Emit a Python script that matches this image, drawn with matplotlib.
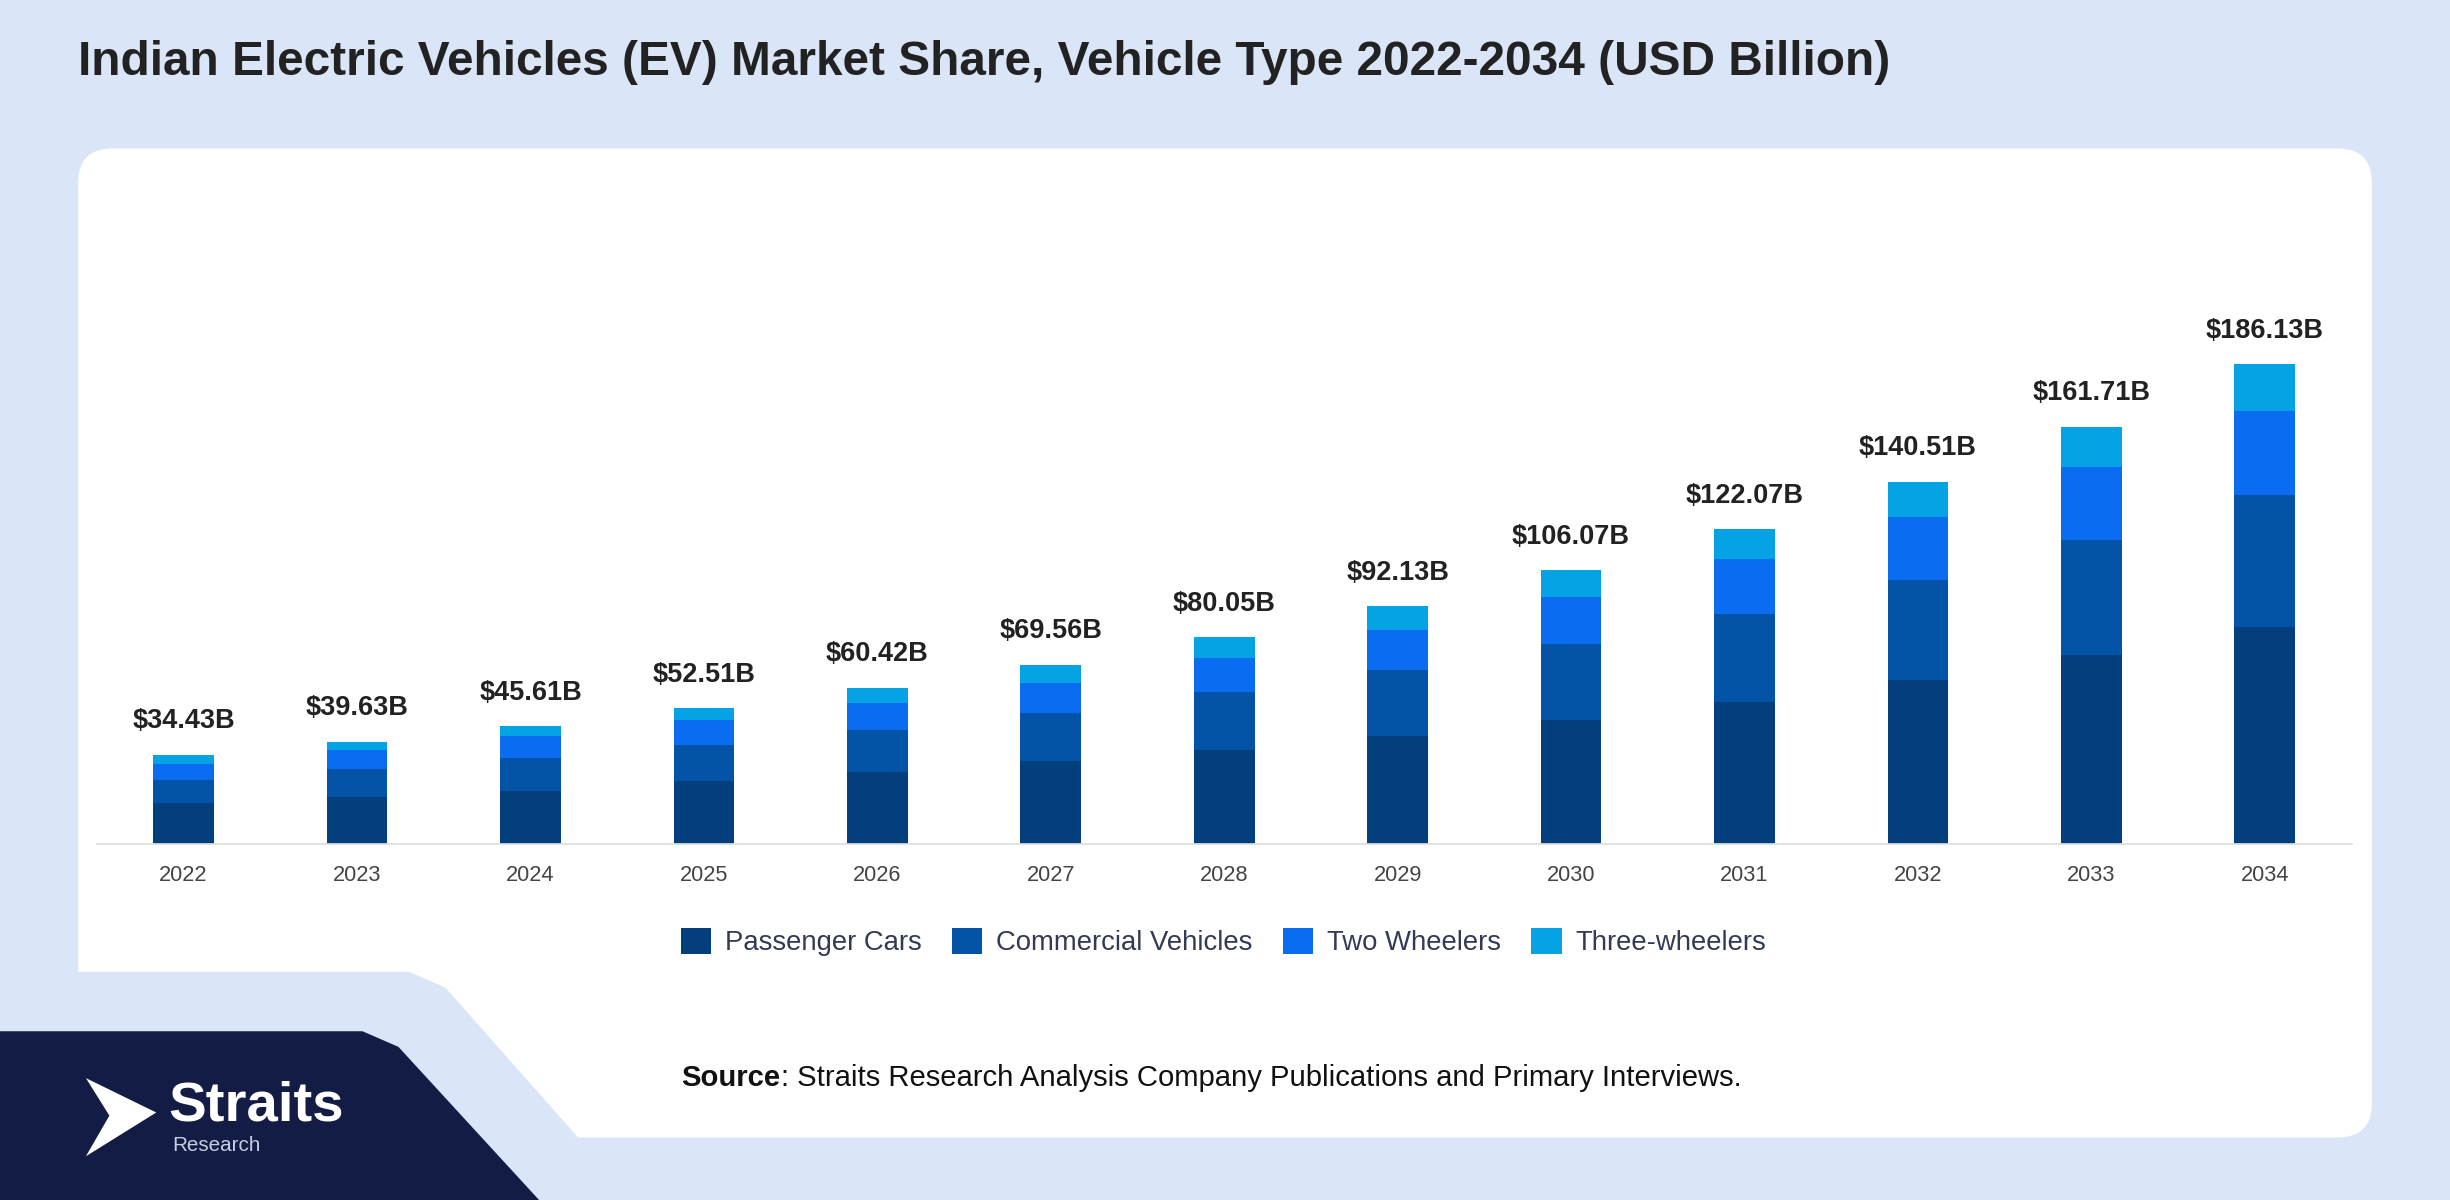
import matplotlib.pyplot as plt
import numpy as np
from matplotlib.patches import FancyBboxPatch, Polygon, Patch

plt.rcParams["font.family"] = ["Liberation Sans", "DejaVu Sans"]

years = ["2022", "2023", "2024", "2025", "2026", "2027", "2028",
         "2029", "2030", "2031", "2032", "2033", "2034"]
totals = [34.43, 39.63, 45.61, 52.51, 60.42, 69.56, 80.05,
          92.13, 106.07, 122.07, 140.51, 161.71, 186.13]
passenger = [15.8, 18.2, 20.6, 24.3, 27.9, 32.1, 36.4, 41.8, 47.9, 55.2, 63.7, 73.4, 84.3]
commercial = [9.1, 10.9, 12.7, 13.9, 16.4, 18.8, 22.4, 25.5, 29.7, 34.0, 38.8, 44.3, 50.9]
two_wheelers = [6.1, 7.3, 8.5, 9.7, 10.3, 11.5, 13.3, 15.8, 18.2, 21.2, 24.3, 28.5, 32.7]
three_wheelers = [t - p - c - w for t, p, c, w in zip(totals, passenger, commercial, two_wheelers)]

series = ["Passenger Cars", "Commercial Vehicles", "Two Wheelers", "Three-wheelers"]
colors = ["#023f7c", "#0353a6", "#0a6cf0", "#05a3e3"]

fig = plt.figure(figsize=(15.68, 7.68), dpi=156.25)
fig.patch.set_facecolor("#dae6f8")

# background shapes in reference pixel coords
bg = fig.add_axes([0, 0, 1, 1], zorder=0)
bg.set_xlim(0, 1568)
bg.set_ylim(768, 0)
bg.axis("off")
bg.add_patch(FancyBboxPatch((50, 95), 1468, 633, boxstyle="round,pad=0,rounding_size=22",
                            fc="white", ec="none"))
bg.add_patch(Polygon([(40, 622), (262, 622), (285, 632), (370, 728), (40, 735)],
                     closed=True, fc="#dae6f8", ec="none"))
bg.add_patch(Polygon([(0, 660), (232, 660), (255, 670), (345, 768), (0, 768)],
                     closed=True, fc="#121c45", ec="none"))
bg.add_patch(Polygon([(55, 690), (100, 712), (55, 740), (70, 714)], closed=True, fc="white", ec="none"))
bg.text(108, 708, "Straits", color="white", fontsize=26, fontweight="bold", va="center")
bg.text(110, 733, "Research", color="#c8cde0", fontsize=9.5, va="center")
bg.text(50, 40, "Indian Electric Vehicles (EV) Market Share, Vehicle Type 2022-2034 (USD Billion)",
        fontsize=22, fontweight="bold", color="#222222", va="center")
bg.text(436, 690, "Source", fontsize=13.5, fontweight="bold", color="#111111", va="center")
bg.text(500, 690, ": Straits Research Analysis Company Publications and Primary Interviews.",
        fontsize=13.5, color="#111111", va="center")

ax = fig.add_axes([62 / 1568, 1 - 540 / 768, 1443 / 1568, 440 / 768], zorder=1)
ax.patch.set_alpha(0)
x = np.arange(len(years))
bottom = np.zeros(len(years))
for name, vals, col in zip(series, [passenger, commercial, two_wheelers, three_wheelers], colors):
    ax.bar(x, vals, 0.35, bottom=bottom, color=col, label=name)
    bottom += np.array(vals)
for xi, t in zip(x, totals):
    ax.text(xi, t + 8, f"${t:.2f}B", ha="center", va="bottom", fontsize=12.5,
            fontweight="bold", color="#222222")
ax.set_xlim(-0.5, len(years) - 0.5)
ax.set_ylim(0, 266.8)
ax.set_xticks(x)
ax.set_xticklabels(years, fontsize=10, color="#444444")
ax.tick_params(axis="x", length=0, pad=10)
ax.set_yticks([])
for s in ["top", "left", "right"]:
    ax.spines[s].set_visible(False)
ax.spines["bottom"].set_color("#dddddd")

handles = [Patch(fc=c, ec="none", label=n) for n, c in zip(series, colors)]
fig.legend(handles=handles, loc="center", bbox_to_anchor=(783 / 1568, 1 - 603 / 768), ncol=4,
           frameon=False, fontsize=12.7, handlelength=1.1, handleheight=1.1, columnspacing=1.1,
           handletextpad=0.5, labelcolor="#333a55")

fig.savefig("out.png", dpi=156.25, facecolor=fig.get_facecolor())
